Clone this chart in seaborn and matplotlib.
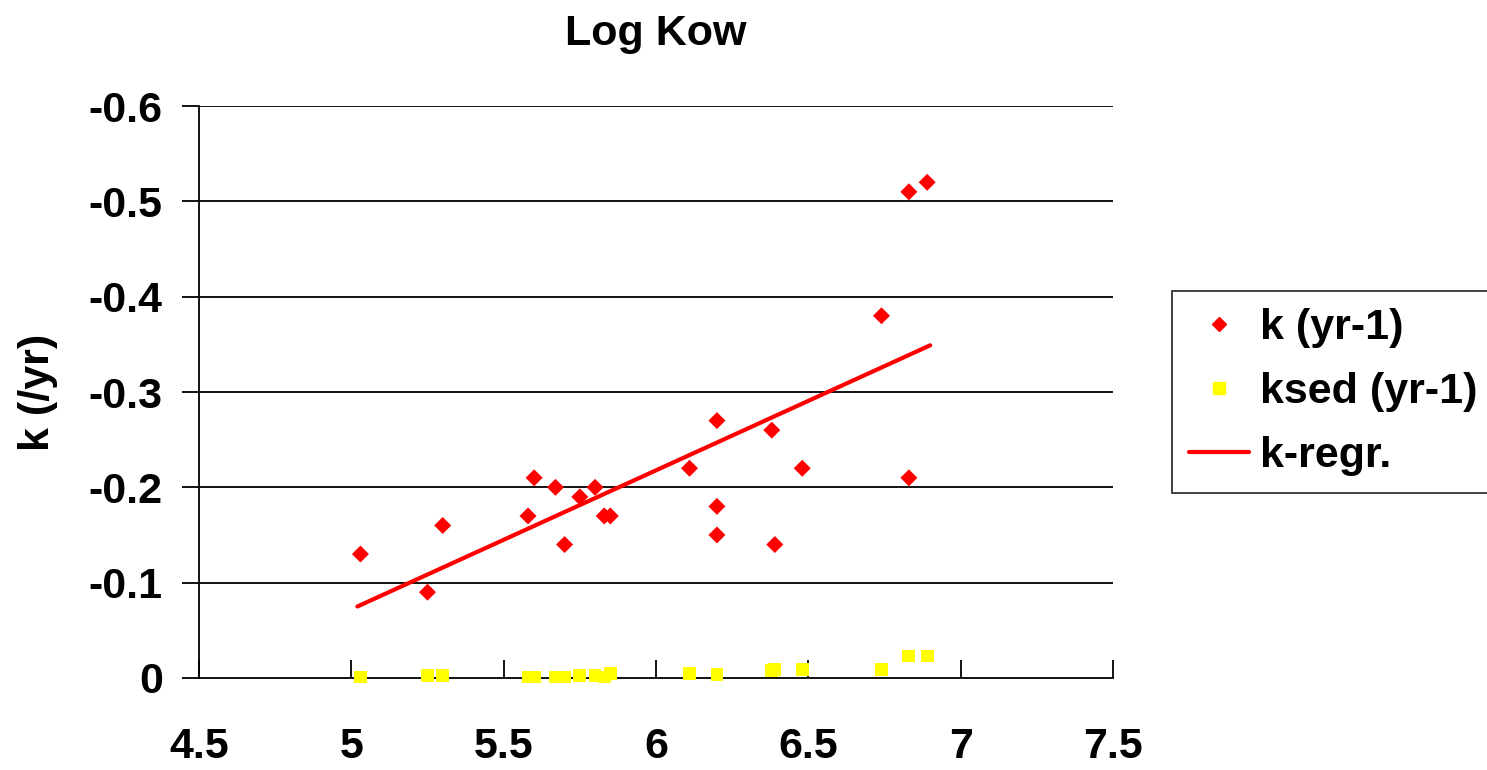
import matplotlib
matplotlib.use("Agg")
import matplotlib.pyplot as plt
import seaborn as sns
import pandas as pd
from matplotlib.lines import Line2D

# ---- data ----
log_kow = [5.03, 5.25, 5.30, 5.58, 5.60, 5.67, 5.70, 5.75, 5.80, 5.83, 5.85,
           6.11, 6.20, 6.20, 6.20, 6.38, 6.39, 6.48, 6.74, 6.83, 6.83, 6.89]
k_yr = [-0.13, -0.09, -0.16, -0.17, -0.21, -0.20, -0.14, -0.19, -0.20, -0.17, -0.17,
        -0.22, -0.27, -0.18, -0.15, -0.26, -0.14, -0.22, -0.38, -0.51, -0.21, -0.52]
ksed_yr = [-0.001, -0.003, -0.003, -0.001, -0.001, -0.001, -0.001, -0.003, -0.003, -0.001, -0.005,
           -0.005, -0.004, -0.004, -0.004, -0.008, -0.009, -0.009, -0.009, -0.023, -0.023, -0.023]
regr_x = [5.02, 6.90]
regr_y = [-0.075, -0.349]
x_ticks = [4.5, 5, 5.5, 6, 6.5, 7, 7.5]
x_tick_labels = ["4.5", "5", "5.5", "6", "6.5", "7", "7.5"]
y_ticks = [0, -0.1, -0.2, -0.3, -0.4, -0.5, -0.6]
y_tick_labels = ["0", "-0.1", "-0.2", "-0.3", "-0.4", "-0.5", "-0.6"]

sns.set_theme(style="white")
plt.rcParams['font.family'] = ['Liberation Sans', 'DejaVu Sans']
plt.rcParams['font.weight'] = 'bold'
plt.rcParams['text.color'] = 'black'
plt.rcParams['axes.labelcolor'] = 'black'
plt.rcParams['xtick.color'] = 'black'
plt.rcParams['ytick.color'] = 'black'

fig = plt.figure(figsize=(14.87, 7.70), dpi=100)
ax = fig.add_axes([0.1338, 0.1195, 0.7485 - 0.1338, 0.8623 - 0.1195])

df_k = pd.DataFrame({"x": log_kow, "y": k_yr})
df_s = pd.DataFrame({"x": log_kow, "y": ksed_yr})
df_r = pd.DataFrame({"x": regr_x, "y": regr_y})

for yv in y_ticks[1:]:
    ax.axhline(yv, color="black", lw=1.3, zorder=1)

sns.scatterplot(data=df_s, x="x", y="y", marker="s", s=85, color="#FFFF00",
                edgecolor="none", ax=ax, zorder=3, clip_on=False)
sns.scatterplot(data=df_k, x="x", y="y", marker="D", s=75, color="#FF0000",
                edgecolor="none", ax=ax, zorder=4)
sns.lineplot(data=df_r, x="x", y="y", color="#FF0000", lw=3, ax=ax, zorder=5)

ax.set_xlim(4.5, 7.5)
ax.set_ylim(0, -0.6)
ax.set_xticks(x_ticks)
ax.set_xticklabels(x_tick_labels)
ax.set_yticks(y_ticks)
ax.set_yticklabels(y_tick_labels)

for s in ["top", "right"]:
    ax.spines[s].set_visible(False)
for s in ["left", "bottom"]:
    ax.spines[s].set_color("black")
    ax.spines[s].set_linewidth(1.3)

ax.tick_params(axis="x", direction="in", length=13, width=1.3, color="black",
               pad=35, labelsize=31, bottom=True, labelcolor="black")
ax.tick_params(axis="y", direction="out", length=12, width=1.3, color="black",
               pad=14, labelsize=31, left=True, labelcolor="black")
for lab in ax.get_xticklabels() + ax.get_yticklabels():
    lab.set_fontweight("bold")

ax.set_xlabel("")
ax.set_ylabel("k (/yr)", fontsize=31, fontweight="bold", labelpad=22, color="black")
ax.set_title("Log Kow", fontsize=31, fontweight="bold", pad=44, color="black")

handles = [
    Line2D([], [], marker="D", color="#FF0000", linestyle="none", markersize=7),
    Line2D([], [], marker="s", color="#FFFF00", linestyle="none", markersize=9),
    Line2D([], [], color="#FF0000", lw=3),
]
labels = ["k (yr-1)", "ksed (yr-1)", "k-regr."]
leg = fig.legend(handles, labels, loc="upper left", bbox_to_anchor=(0.788, 0.622),
                 bbox_transform=fig.transFigure, frameon=True, fancybox=False,
                 prop={"size": 31, "weight": "bold"}, handlelength=1.4,
                 borderpad=0.4, labelspacing=0.55, handletextpad=0.25, borderaxespad=0)
leg.get_frame().set_edgecolor("black")
leg.get_frame().set_linewidth(1.3)
for t in leg.get_texts():
    t.set_color("black")

fig.savefig("out.png", dpi=100)
